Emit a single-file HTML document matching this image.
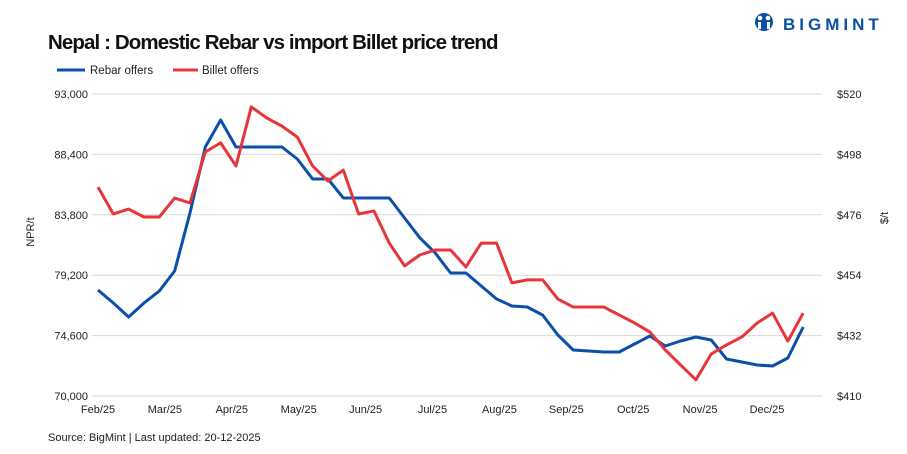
<!DOCTYPE html>
<html><head><meta charset="utf-8"><style>
body{margin:0;background:#fff;font-family:"Liberation Sans",sans-serif;}
svg{display:block}
</style></head><body>
<svg width="907" height="454" viewBox="0 0 907 454">
<text x="48" y="49" font-size="20.5" font-weight="bold" letter-spacing="-0.9" fill="#111">Nepal : Domestic Rebar vs import Billet price trend</text>
<g>
<circle cx="764" cy="22" r="9" fill="#0a4fa8"/>
<circle cx="760" cy="18" r="2.3" fill="#fff"/><circle cx="768" cy="18" r="2.3" fill="#fff"/>
<rect x="758" y="22" width="3" height="7" fill="#fff"/><rect x="767" y="22" width="3" height="7" fill="#fff"/>
<text x="783" y="30" font-size="17" font-weight="bold" letter-spacing="4" fill="#0a4fa8">BIGMINT</text>
</g>
<g>
<line x1="57" y1="70" x2="85" y2="70" stroke="#0a4fa8" stroke-width="3"/>
<text x="90" y="74" font-size="11.5" fill="#222">Rebar offers</text>
<line x1="173" y1="70" x2="198" y2="70" stroke="#e8353a" stroke-width="3"/>
<text x="202" y="74" font-size="11.5" fill="#222">Billet offers</text>
</g>
<g id="grid"></g><g id="axes"></g><g id="series"></g>
<text transform="translate(34,232) rotate(-90)" text-anchor="middle" font-size="11" fill="#222">NPR/t</text>
<text transform="translate(888,218) rotate(-90)" text-anchor="middle" font-size="11" fill="#222">$/t</text>
<text x="48" y="441" font-size="11" fill="#222">Source: BigMint | Last updated: 20-12-2025</text>
</svg>
<script>
const leftTicks=[70000,74600,79200,83800,88400,93000];
const rightTicks=[410,432,454,476,498,520];
const monthLabels=["Feb/25","Mar/25","Apr/25","May/25","Jun/25","Jul/25","Aug/25","Sep/25","Oct/25","Nov/25","Dec/25"];
const rebar=[78073,77083,76017,77083,77997,79520,83937,88964,91020,88964,88964,88964,88964,88050,86527,86527,85080,85080,85080,85080,83557,82034,80891,79368,79368,78378,77388,76855,76778,76169,74646,73503,73427,73351,73351,73960,74570,73808,74189,74494,74265,72818,72589,72361,72285,72894,75255];
const billet=[486.1,476.3,478.1,475.2,475.2,482.1,480.3,498.9,502.2,493.8,515.3,511.3,508.3,504.3,493.8,488.3,492.3,476.3,477.4,465.7,457.4,461.4,463.2,463.2,457.0,465.7,465.7,451.2,452.3,452.3,445.3,442.4,442.4,442.4,439.5,436.6,433.3,426.8,421.3,415.9,425.3,428.6,431.5,436.6,440.2,430.0,440.2];
const NS="http://www.w3.org/2000/svg";
const x0=98,dx=15.33,yTop=94,yBot=396;
const xPos=i=>x0+i*dx;
const yL=v=>yBot-(v-70000)/23000*(yBot-yTop);
const yR=v=>yBot-(v-410)/110*(yBot-yTop);
function mk(t,a,p){const e=document.createElementNS(NS,t);for(const k in a)e.setAttribute(k,a[k]);p.appendChild(e);return e;}
const grid=document.getElementById('grid'),axes=document.getElementById('axes'),ser=document.getElementById('series');
leftTicks.forEach((v,i)=>{
 const l=mk('line',{x1:92,x2:822,y1:yL(v),y2:yL(v),stroke:'#d9d9d9','stroke-width':1},grid);
 
 
 const t=mk('text',{x:88,y:yL(v)+4,'text-anchor':'end','font-size':11,fill:'#222'},axes);
 t.textContent=v.toLocaleString('en-US');
 
 
});
rightTicks.forEach(v=>{
 const t=mk('text',{x:837,y:yR(v)+4,'font-size':11,fill:'#222'},axes);
 t.textContent='$'+v;
 
 
});
monthLabels.forEach((m,i)=>{
 const t=mk('text',{x:98+i*66.9,y:413,'text-anchor':'middle','font-size':11,fill:'#222'},axes);
 t.textContent=m;
 
 
});
const p1=mk('polyline',{points:rebar.map((v,i)=>xPos(i)+','+yL(v)).join(' '),fill:'none',stroke:'#0a4fa8','stroke-width':3,'stroke-linejoin':'round'},ser);


const p2=mk('polyline',{points:billet.map((v,i)=>xPos(i)+','+yR(v)).join(' '),fill:'none',stroke:'#e8353a','stroke-width':3,'stroke-linejoin':'round'},ser);


</script>
</body></html>
